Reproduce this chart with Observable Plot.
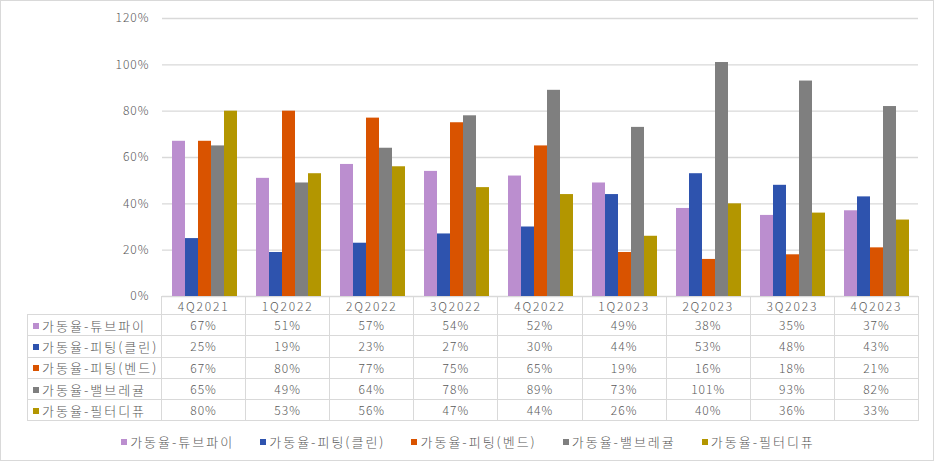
<!DOCTYPE html>
<html>
<head>
<meta charset="utf-8">
<script src="https://cdn.jsdelivr.net/npm/d3@7"></script>
<script src="https://cdn.jsdelivr.net/npm/@observablehq/plot@0.6"></script>
<style>
  html, body { margin: 0; padding: 0; background: #fff; }
  body { width: 936px; height: 462px; overflow: hidden; font-family: "Noto Sans CJK KR", "Noto Sans", sans-serif; }
  #frame { position: absolute; left: 0; top: 0; width: 934px; height: 461px; box-sizing: border-box; border: 1.5px solid #d9d9d9; }
  #chart { position: absolute; left: 0; top: 0; }
  #chart svg { overflow: visible; }
  #tbl { position: absolute; left: 27px; top: 296px; border-collapse: collapse; table-layout: fixed; color: #595959; font-size: 12px; letter-spacing: 1px; font-weight: 300; }
  #tbl td { border: 1px solid #d9d9d9; padding: 0; text-align: center; white-space: nowrap; overflow: hidden; line-height: 1; }
  #tbl tr.hdr td { height: 17px; letter-spacing: 1.8px; }
  #tbl tr.row td { height: 20.3px; }
  #tbl td.blank { border-top: none; border-left: none; }
  #tbl td.lab { text-align: left; padding-left: 5px; font-size: 13px; letter-spacing: 2px; }
  .sw { display: inline-block; width: 6px; height: 6px; margin-right: 3px; vertical-align: 2px; }
  #legend { position: absolute; left: 0; top: 433px; width: 936px; display: flex; justify-content: center; gap: 26px; color: #595959; font-size: 13px; letter-spacing: 2px; font-weight: 300; line-height: 18px; }
</style>
</head>
<body>
<div id="frame"></div>
<div id="chart"></div>
<table id="tbl"></table>
<div id="legend"></div>
<script>
const cats = ["4Q2021","1Q2022","2Q2022","3Q2022","4Q2022","1Q2023","2Q2023","3Q2023","4Q2023"];
const seriesNames = ["가동율-튜브파이","가동율-피팅(클린)","가동율-피팅(벤드)","가동율-밸브레귤","가동율-필터디퓨"];
const tubePipe     = [67, 51, 57, 54, 52, 49, 38, 35, 37];
const fittingClean = [25, 19, 23, 27, 30, 44, 53, 48, 43];
const fittingBend  = [67, 80, 77, 75, 65, 19, 16, 18, 21];
const valveReg     = [65, 49, 64, 78, 89, 73, 101, 93, 82];
const filterDiff   = [80, 53, 56, 47, 44, 26, 40, 36, 33];
const colors = ["#bb8ecf", "#2e53ae", "#d95300", "#7f7f7f", "#b39600"];
const yTicks = [0, 20, 40, 60, 80, 100, 120];

const seriesValues = [tubePipe, fittingClean, fittingBend, valveReg, filterDiff];
const rows = [];
seriesNames.forEach((s, si) => {
  cats.forEach((c, ci) => rows.push({cat: c, series: s, value: seriesValues[si][ci]}));
});

const font = '"Noto Sans CJK KR", "Noto Sans", sans-serif';
const chart = Plot.plot({
  width: 936,
  height: 310,
  marginTop: 18,
  marginBottom: 14,
  marginLeft: 161,
  marginRight: 18,
  style: {fontFamily: font, fontSize: "12px", color: "#595959", background: "transparent", letterSpacing: "1px", fontWeight: 300},
  fx: {domain: cats, padding: 0, axis: null},
  x: {domain: seriesNames, paddingInner: 0, paddingOuter: 0.69, axis: null},
  y: {domain: [0, 120], axis: null},
  color: {domain: seriesNames, range: colors},
  marks: [
    Plot.gridY(yTicks, {stroke: "#d9d9d9", strokeOpacity: 1, strokeWidth: 1.3}),
    Plot.barY(rows, {fx: "cat", x: "series", y: "value", fill: "series"}),
    Plot.axisY(yTicks, {tickSize: 0, tickPadding: 13, tickFormat: d => d + "%", fill: "#595959", label: null})
  ]
});
document.getElementById("chart").appendChild(chart);

// data table below the chart
const colW = (936 - 18 - 161) / cats.length;
const tbl = document.getElementById("tbl");
let html = '<colgroup><col style="width:134px">' + cats.map(() => `<col style="width:${colW}px">`).join("") + '</colgroup>';
html += '<tr class="hdr"><td class="blank"></td>' + cats.map(c => `<td>${c}</td>`).join("") + '</tr>';
seriesNames.forEach((s, si) => {
  html += `<tr class="row"><td class="lab"><span class="sw" style="background:${colors[si]}"></span>${s}</td>` +
    seriesValues[si].map(v => `<td>${v}%</td>`).join("") + '</tr>';
});
tbl.style.width = (134 + colW * cats.length) + "px";
tbl.innerHTML = html;

// legend
document.getElementById("legend").innerHTML = seriesNames.map((s, i) =>
  `<span><span class="sw" style="background:${colors[i]}"></span>${s}</span>`).join("");
</script>
</body>
</html>
